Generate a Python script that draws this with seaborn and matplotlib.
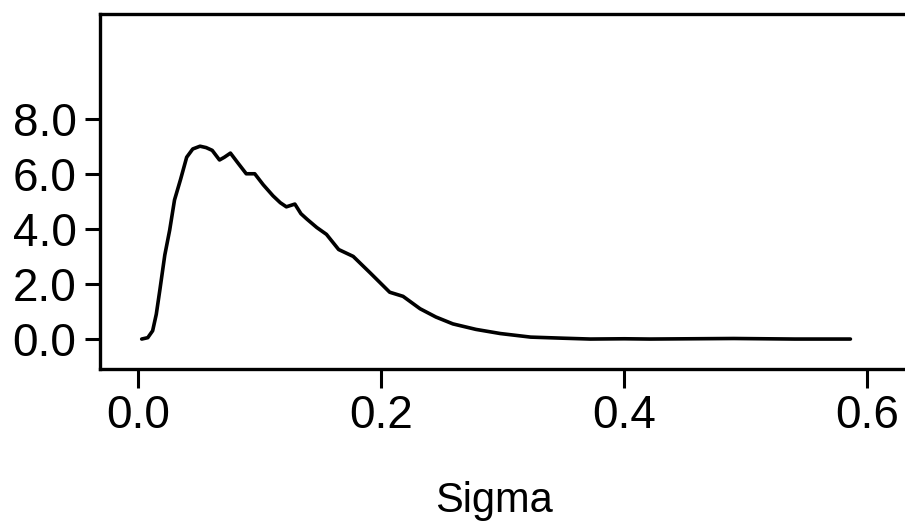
import matplotlib
matplotlib.use("Agg")
import matplotlib.pyplot as plt
import seaborn as sns

# values (scan tilt removed)
sigma = [0.003, 0.008, 0.012, 0.015, 0.018, 0.022, 0.026, 0.030, 0.035,
         0.040, 0.045, 0.051, 0.056, 0.061, 0.067, 0.071, 0.076, 0.082,
         0.089, 0.096, 0.103, 0.111, 0.117, 0.122, 0.129, 0.134, 0.139,
         0.147, 0.155, 0.165, 0.177, 0.184, 0.191, 0.199, 0.207, 0.218,
         0.232, 0.245, 0.259, 0.278, 0.298, 0.323, 0.350, 0.372, 0.400,
         0.421, 0.455, 0.490, 0.540, 0.586]
density = [0.00, 0.05, 0.30, 0.90, 1.80, 3.05, 3.95, 5.05, 5.80,
           6.60, 6.90, 7.00, 6.95, 6.85, 6.50, 6.60, 6.75, 6.40,
           6.00, 6.00, 5.60, 5.20, 4.95, 4.80, 4.90, 4.55, 4.35,
           4.05, 3.80, 3.25, 3.00, 2.70, 2.40, 2.05, 1.70, 1.55,
           1.10, 0.80, 0.55, 0.35, 0.20, 0.07, 0.03, 0.00, 0.01,
           0.00, 0.01, 0.02, 0.00, 0.00]

x_ticks = [0.0, 0.2, 0.4, 0.6]
y_ticks = [0.0, 2.0, 4.0, 6.0, 8.0]

sns.set_theme(style="ticks")
plt.rcParams["font.family"] = ["Liberation Sans", "DejaVu Sans"]

fig = plt.figure(figsize=(9.05, 5.28), dpi=100)
ax = fig.add_axes([0.1105, 0.301, 0.895, 0.6725])

sns.lineplot(x=sigma, y=density, color="black", linewidth=2.6, ax=ax)

ax.set_xlim(-0.0313, 0.635)
ax.set_ylim(-1.09, 11.8)
ax.set_xticks(x_ticks)
ax.set_xticklabels([f"{v:.1f}" for v in x_ticks])
ax.set_yticks(y_ticks)
ax.set_yticklabels([f"{v:.1f}" for v in y_ticks])

for side in ["left", "right", "top", "bottom"]:
    ax.spines[side].set_visible(True)
    ax.spines[side].set_color("black")
    ax.spines[side].set_linewidth(2.4)

ax.tick_params(axis="x", length=14, width=2.2, pad=4, labelsize=33, colors="black")
ax.tick_params(axis="y", length=11, width=2.2, pad=6, labelsize=33, colors="black")
ax.set_xlabel("Sigma", fontsize=30, color="black")
ax.xaxis.set_label_coords(0.487, -0.315)
ax.set_ylabel("")

fig.savefig("out.png", dpi=100, facecolor="white")
